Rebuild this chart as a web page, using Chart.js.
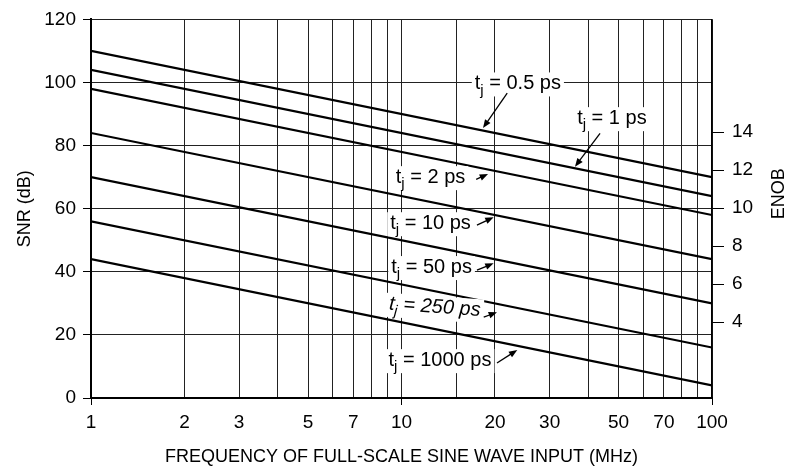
<!DOCTYPE html>
<html>
<head>
<meta charset="utf-8">
<script src="https://cdn.jsdelivr.net/npm/chart.js@4"></script>
<style>
  html, body { margin: 0; padding: 0; background: #fff; }
</style>
</head>
<body>
<canvas id="snr-chart" width="789" height="470"></canvas>
<script>
// Frequency end points (MHz) - lines are straight on the log axis
const freqs = [1, 100];

// SNR (dB) at 1 MHz and 100 MHz
const snr05ps = [110, 70];
const snr1ps = [104, 64];
const snr2ps = [98, 58];
const snr10ps = [84, 44];
const snr50ps = [70, 30];
const snr250ps = [56, 16];
const snr1000ps = [44, 4];

const seriesNames = ["0.5 ps", "1 ps", "2 ps", "10 ps", "50 ps", "250 ps", "1000 ps"];
const seriesValues = [snr05ps, snr1ps, snr2ps, snr10ps, snr50ps, snr250ps, snr1000ps];

// Axis tick labels
const xTickLabels = [1, 2, 3, 5, 7, 10, 20, 30, 50, 70, 100];
const xMajorTicks = [1, 10, 100];
const enobTicks = [4, 6, 8, 10, 12, 14];
const dbPerBit = 6.02;

// Label text and arrow (in data units: MHz, dB)
const jitterLabels = [
  { name: "0.5 ps", at: [23.7, 99.7], arrow: [[21.9, 96.6], [18.3, 85.6]] },
  { name: "1 ps", at: [47.6, 88.7], arrow: [[43.6, 83.9], [36.2, 73.3]] },
  { name: "2 ps", at: [12.4, 70.0], arrow: [[17.4, 69.3], [19.0, 71.0]] },
  { name: "10 ps", at: [12.4, 55.4], arrow: [[17.5, 54.8], [19.8, 57.3]] },
  { name: "50 ps", at: [12.5, 41.5], arrow: [[17.5, 40.5], [19.8, 42.7]] },
  { name: "250 ps", at: [12.8, 28.8], arrow: [[18.4, 25.6], [20.3, 27.2]], italic: true },
  { name: "1000 ps", at: [13.3, 12.0], arrow: [[20.3, 11.1], [23.6, 15.2]] },
];

const fontFamily = "'Liberation Sans', Arial, Helvetica, sans-serif";

function drawArrow(ctx, x1, y1, x2, y2) {
  const ang = Math.atan2(y2 - y1, x2 - x1);
  const head = 9;
  ctx.beginPath();
  ctx.moveTo(x1, y1);
  ctx.lineTo(x2 - Math.cos(ang) * head * 0.8, y2 - Math.sin(ang) * head * 0.8);
  ctx.stroke();
  ctx.beginPath();
  ctx.moveTo(x2, y2);
  ctx.lineTo(x2 - head * Math.cos(ang - 0.38), y2 - head * Math.sin(ang - 0.38));
  ctx.lineTo(x2 - head * Math.cos(ang + 0.38), y2 - head * Math.sin(ang + 0.38));
  ctx.closePath();
  ctx.fill();
}

// Plugin that draws the t_j labels with arrows, plus the ENOB title
const jitterLabelPlugin = {
  id: "jitterLabels",
  afterDatasetsDraw(chart) {
    const ctx = chart.ctx;
    const xs = chart.scales.x;
    const ys = chart.scales.y;
    jitterLabels.forEach((lbl) => {
      const cx = xs.getPixelForValue(lbl.at[0]);
      const cy = ys.getPixelForValue(lbl.at[1]);
      const style = lbl.italic ? "italic " : "";
      const bigFont = style + "20px " + fontFamily;
      const subFont = style + "15px " + fontFamily;
      const rest = " = " + lbl.name;
      ctx.save();
      ctx.font = bigFont;
      const wt = ctx.measureText("t").width;
      const wr = ctx.measureText(rest).width;
      ctx.font = subFont;
      const wj = ctx.measureText("j").width;
      const total = wt + wj + wr;
      ctx.translate(cx, cy);
      if (lbl.italic) ctx.rotate(0.07);
      const x0 = -total / 2;
      ctx.fillStyle = "#fff";
      ctx.fillRect(x0 - 3, -11, total + 6, 24);
      ctx.fillStyle = "#000";
      ctx.textBaseline = "middle";
      ctx.textAlign = "left";
      ctx.font = bigFont;
      ctx.fillText("t", x0, 0);
      ctx.font = subFont;
      ctx.fillText("j", x0 + wt, 7);
      ctx.font = bigFont;
      ctx.fillText(rest, x0 + wt + wj, 0);
      ctx.restore();

      ctx.save();
      ctx.strokeStyle = "#000";
      ctx.fillStyle = "#000";
      ctx.lineWidth = 1.3;
      const [a, b] = lbl.arrow;
      drawArrow(
        ctx,
        xs.getPixelForValue(a[0]), ys.getPixelForValue(a[1]),
        xs.getPixelForValue(b[0]), ys.getPixelForValue(b[1])
      );
      ctx.restore();
    });

    // ENOB title reads bottom-to-top like the left one
    const enob = chart.scales.enob;
    ctx.save();
    ctx.translate(enob.right - 10, ys.getPixelForValue(60) - 15);
    ctx.rotate(-Math.PI / 2);
    ctx.font = "18px " + fontFamily;
    ctx.fillStyle = "#000";
    ctx.textAlign = "center";
    ctx.textBaseline = "middle";
    ctx.fillText("ENOB", 0, 0);
    ctx.restore();
  },
};

const datasets = seriesValues.map((vals, i) => ({
  label: "tj = " + seriesNames[i],
  data: freqs.map((f, k) => ({ x: f, y: vals[k] })),
  borderColor: "#000",
  borderWidth: 2.2,
  pointRadius: 0,
  fill: false,
  tension: 0,
}));

const ctx = document.getElementById("snr-chart").getContext("2d");
new Chart(ctx, {
  type: "line",
  data: { datasets: datasets },
  options: {
    responsive: false,
    animation: false,
    layout: { padding: { left: 10, top: 19, right: 0, bottom: 0 } },
    plugins: {
      legend: { display: false },
      tooltip: { enabled: false },
    },
    scales: {
      x: {
        type: "logarithmic",
        min: 1,
        max: 100,
        afterFit: (scale) => { scale.height = 72; },
        border: { color: "#000", width: 2 },
        grid: {
          color: "#222",
          lineWidth: 1,
          tickLength: 7,
          tickColor: (c) => (c.tick && xMajorTicks.includes(Math.round(c.tick.value)) ? "#000" : "rgba(0,0,0,0)"),
        },
        ticks: {
          autoSkip: false,
          maxRotation: 0,
          padding: 6,
          color: "#000",
          font: { family: fontFamily, size: 19 },
          callback: (v) => {
            const hit = xTickLabels.find((t) => Math.abs(t - v) < 1e-6);
            return hit ? String(hit) : "";
          },
        },
        title: {
          display: true,
          text: "FREQUENCY OF FULL-SCALE SINE WAVE INPUT (MHz)",
          color: "#000",
          padding: { top: 0, bottom: 2 },
          font: { family: fontFamily, size: 18 },
        },
      },
      y: {
        position: "left",
        min: 0,
        max: 120,
        afterFit: (scale) => { scale.width = 81; },
        border: { color: "#000", width: 2 },
        grid: { color: "#222", lineWidth: 1, tickLength: 8, tickColor: "#000" },
        ticks: {
          stepSize: 20,
          padding: 7,
          color: "#000",
          font: { family: fontFamily, size: 19 },
        },
        title: {
          display: true,
          text: "SNR (dB)",
          color: "#000",
          font: { family: fontFamily, size: 18 },
        },
      },
      enob: {
        position: "right",
        min: 0,
        max: 120 / dbPerBit,
        afterFit: (scale) => { scale.width = 77; },
        afterBuildTicks: (scale) => {
          scale.ticks = enobTicks.map((v) => ({ value: v }));
        },
        border: { color: "#000", width: 1.5 },
        grid: { drawOnChartArea: false, tickLength: 12, tickColor: "#000", lineWidth: 1 },
        ticks: {
          padding: 8,
          color: "#000",
          font: { family: fontFamily, size: 19 },
        },
        title: { display: false },
      },
    },
  },
  plugins: [jitterLabelPlugin],
});
</script>
</body>
</html>
